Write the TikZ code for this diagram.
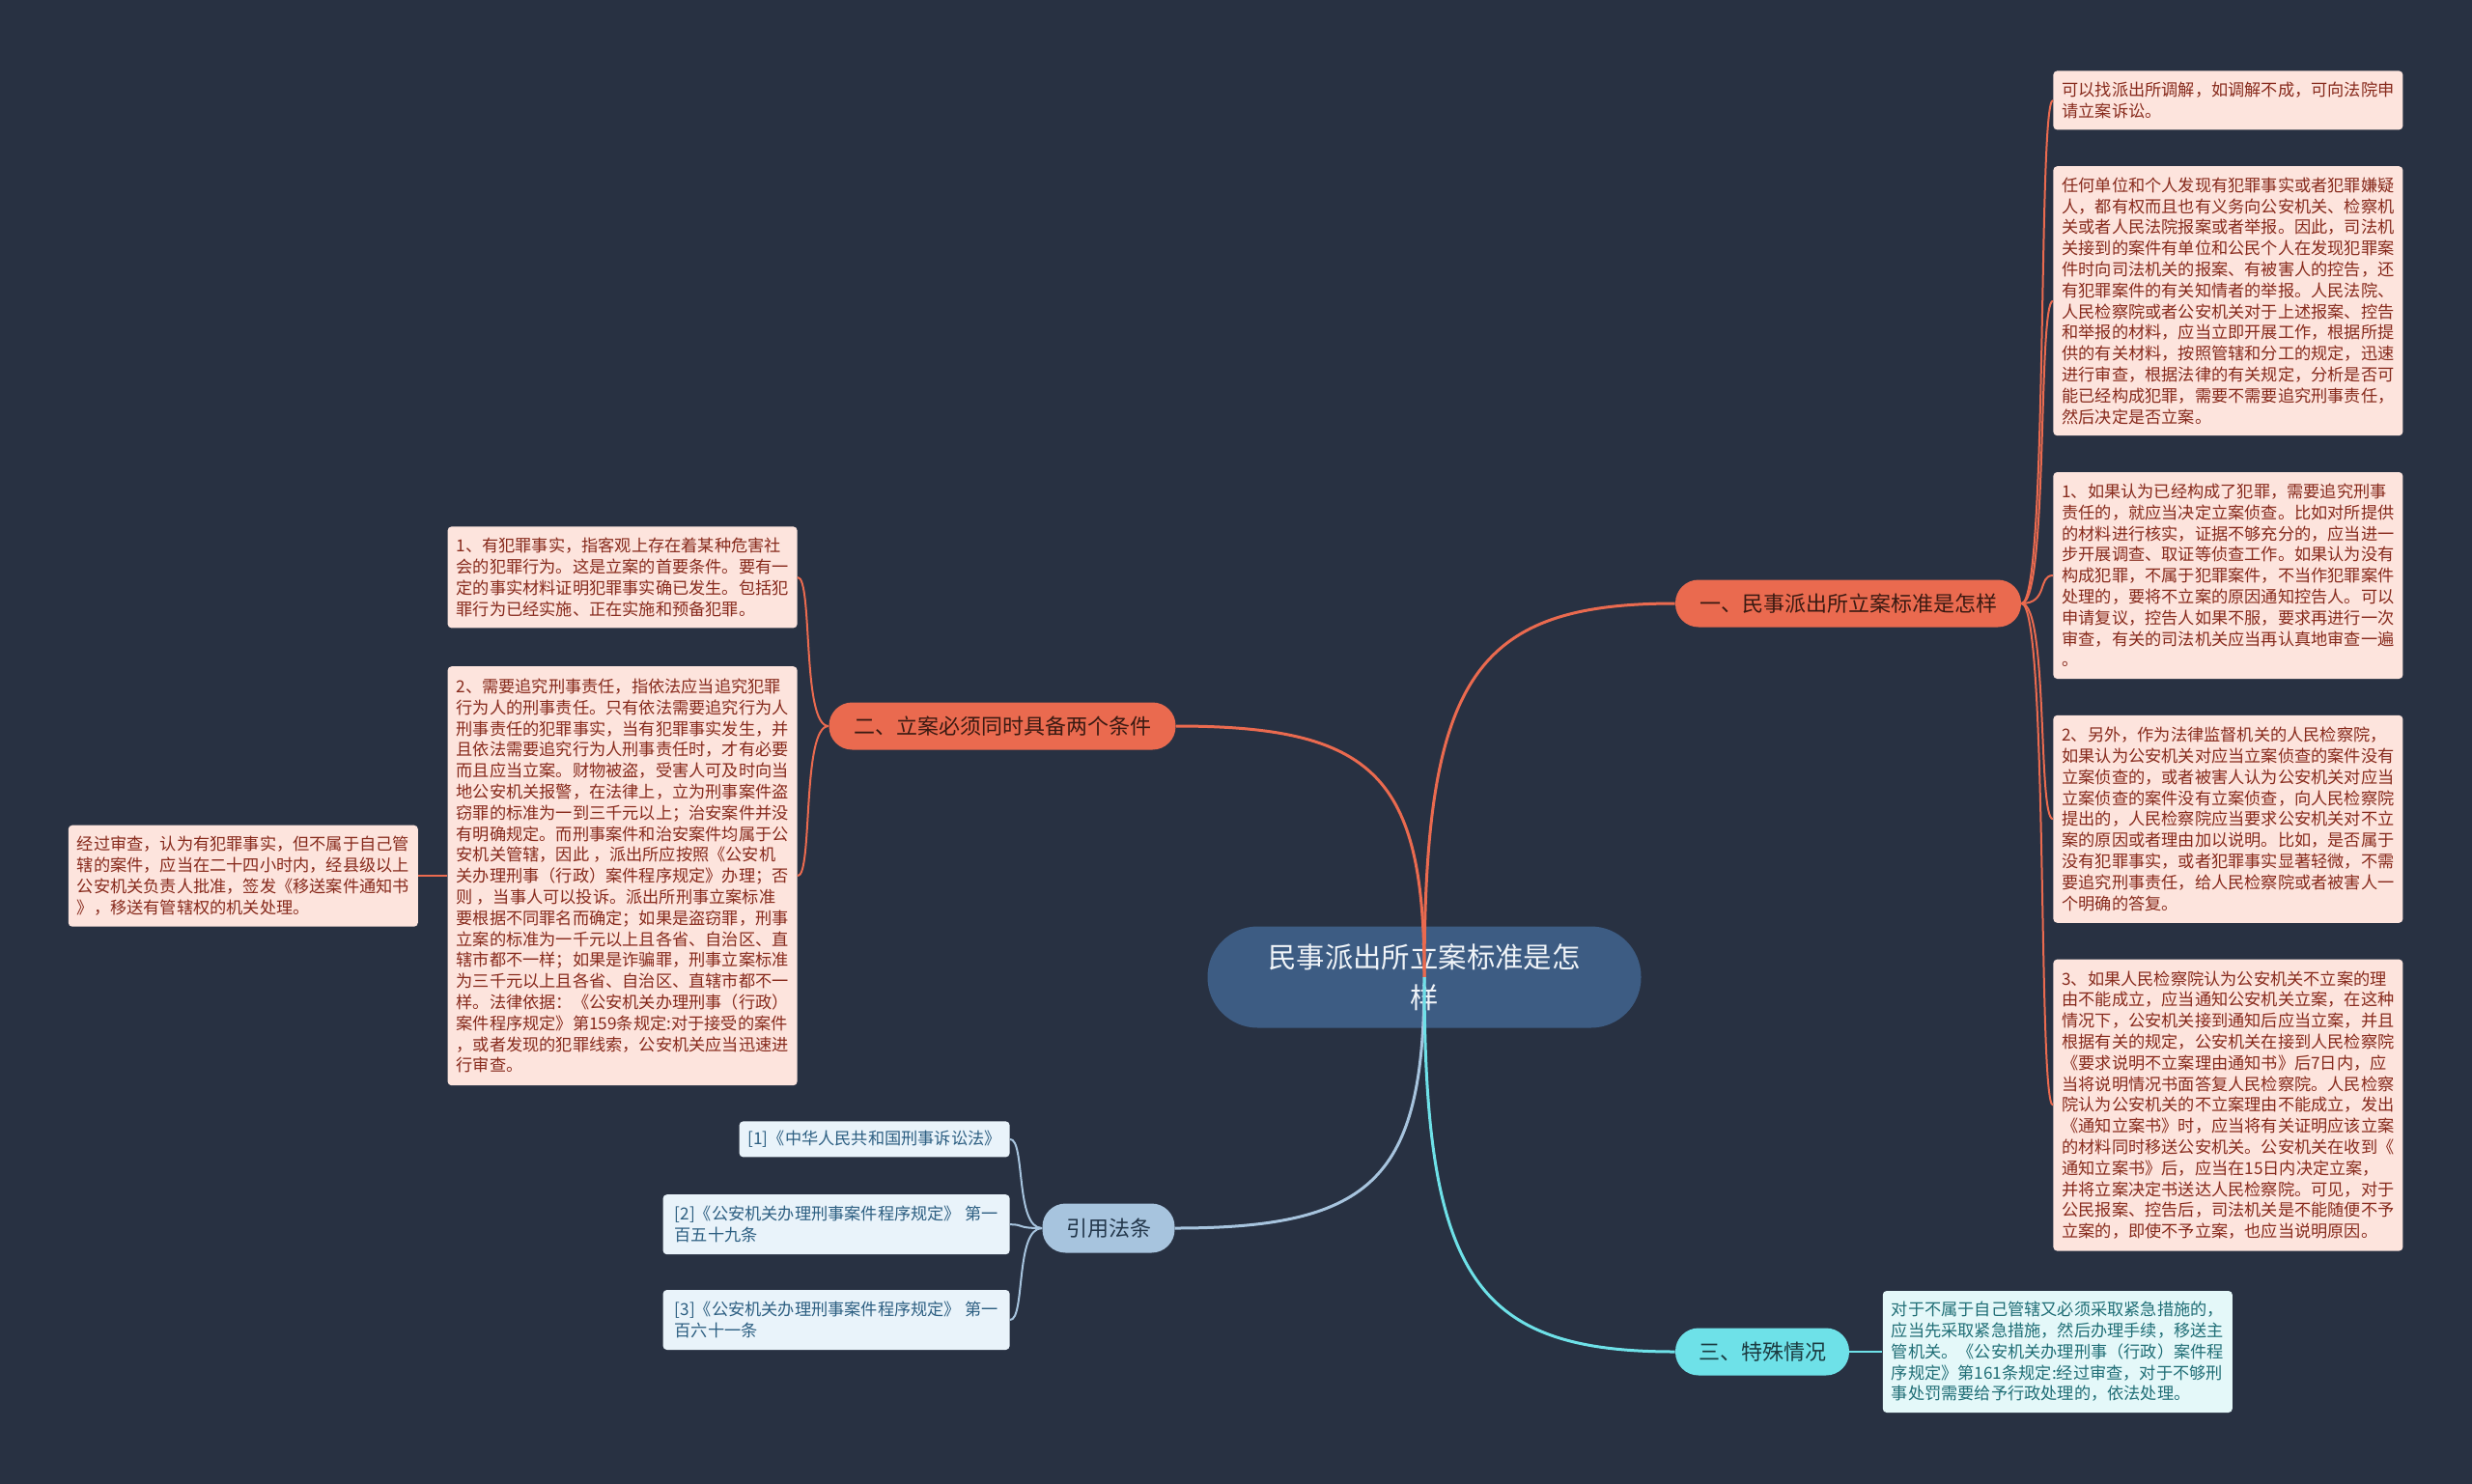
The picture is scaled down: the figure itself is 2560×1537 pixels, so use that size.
\documentclass[tikz,border=0pt]{standalone}
\usepackage{fontspec}
\setmainfont{Noto Sans CJK SC}
\usepackage{xcolor}
\usepackage{tikz}
\usetikzlibrary{positioning}
\definecolor{bgnavy}{RGB}{40,49,66}
\definecolor{rootblue}{RGB}{61,92,131}
\definecolor{ruleorange}{RGB}{234,106,79}
\definecolor{leafpink}{RGB}{253,228,221}
\definecolor{leafink}{RGB}{135,42,28}
\definecolor{brink}{RGB}{58,26,18}
\definecolor{caseteal}{RGB}{110,225,232}
\definecolor{tealpale}{RGB}{228,248,249}
\definecolor{tealink}{RGB}{32,110,118}
\definecolor{citeblue}{RGB}{167,196,222}
\definecolor{citepale}{RGB}{233,243,250}
\definecolor{citeink}{RGB}{45,95,130}

\begin{document}
\begin{tikzpicture}[x=0.5pt, y=0.5pt, font=\fontsize{8.6pt}{10.9pt}\selectfont]
  \tikzset{root/.style={fill=rootblue, text={rgb,255:red,240;green,244;blue,248}, rounded corners=26pt, align=center, minimum width=224.5pt, minimum height=52.5pt, font=\fontsize{14.7pt}{20.8pt}\selectfont},
    topic/.style={rounded corners=12pt, minimum height=24.5pt, inner sep=0pt, font=\fontsize{11pt}{13pt}\selectfont},
    leaf/.style={fill=leafpink, text=leafink, rounded corners=2pt, align=left, inner xsep=4.5pt, inner ysep=2pt, minimum width=180.5pt},
    tealleaf/.style={leaf, fill=tealpale, text=tealink},
    citeleaf/.style={leaf, fill=citepale, text=citeink},
    trunk/.style={line width=1.5pt},
    twig/.style={line width=1pt},
    rcurve/.style={out=0, in=180, out distance=14pt, in distance=8pt},
    lcurve/.style={out=180, in=0, out distance=14pt, in distance=8pt}}
  \fill[bgnavy] (0,0) rectangle (2560,-1537);
  \useasboundingbox (0,0) rectangle (2560,-1537);
  \node[root] (root) at (1475,-1012) {民事派出所立案标准是怎\\样};
  \node[topic, fill=ruleorange, text=brink, minimum width=179pt] (br1) at (1914,-625) {一、民事派出所立案标准是怎样};
  \node[topic, fill=ruleorange, text=brink, minimum width=179.5pt] (br2) at (1038,-752) {二、立案必须同时具备两个条件};
  \node[topic, fill=citeblue, text={rgb,255:red,35;green,55;blue,75}, minimum width=68.5pt, minimum height=25.5pt] (cite) at (1148,-1272) {引用法条};
  \node[topic, fill=caseteal, text={rgb,255:red,27;green,58;blue,64}, minimum width=90pt] (spec) at (1825,-1400) {三、特殊情况};
  \node[leaf, anchor=north west, minimum height=30.5pt] (l1a) at (2126,-73) {可以找派出所调解，如调解不成，可向法院申\\
    请立案诉讼。};
  \node[leaf, below=18.5pt of l1a, minimum height=139.5pt] (l1b) {任何单位和个人发现有犯罪事实或者犯罪嫌疑\\
    人，都有权而且也有义务向公安机关、检察机\\
    关或者人民法院报案或者举报。因此，司法机\\
    关接到的案件有单位和公民个人在发现犯罪案\\
    件时向司法机关的报案、有被害人的控告，还\\
    有犯罪案件的有关知情者的举报。人民法院、\\
    人民检察院或者公安机关对于上述报案、控告\\
    和举报的材料，应当立即开展工作，根据所提\\
    供的有关材料，按照管辖和分工的规定，迅速\\
    进行审查，根据法律的有关规定，分析是否可\\
    能已经构成犯罪，需要不需要追究刑事责任，\\
    然后决定是否立案。};
  \node[leaf, below=18.5pt of l1b, minimum height=107pt] (l1c) {1、如果认为已经构成了犯罪，需要追究刑事\\
    责任的，就应当决定立案侦查。比如对所提供\\
    的材料进行核实，证据不够充分的，应当进一\\
    步开展调查、取证等侦查工作。如果认为没有\\
    构成犯罪，不属于犯罪案件，不当作犯罪案件\\
    处理的，要将不立案的原因通知控告人。可以\\
    申请复议，控告人如果不服，要求再进行一次\\
    审查，有关的司法机关应当再认真地审查一遍\\
    。};
  \node[leaf, below=18.5pt of l1c, minimum height=107.5pt] (l1d) {2、另外，作为法律监督机关的人民检察院，\\
    如果认为公安机关对应当立案侦查的案件没有\\
    立案侦查的，或者被害人认为公安机关对应当\\
    立案侦查的案件没有立案侦查，向人民检察院\\
    提出的，人民检察院应当要求公安机关对不立\\
    案的原因或者理由加以说明。比如，是否属于\\
    没有犯罪事实，或者犯罪事实显著轻微，不需\\
    要追究刑事责任，给人民检察院或者被害人一\\
    个明确的答复。};
  \node[leaf, below=18.5pt of l1d, minimum height=151pt] (l1e) {3、如果人民检察院认为公安机关不立案的理\\
    由不能成立，应当通知公安机关立案，在这种\\
    情况下，公安机关接到通知后应当立案，并且\\
    根据有关的规定，公安机关在接到人民检察院\\
    《要求说明不立案理由通知书》后7日内，应\\
    当将说明情况书面答复人民检察院。人民检察\\
    院认为公安机关的不立案理由不能成立，发出\\
    《通知立案书》时，应当将有关证明应该立案\\
    的材料同时移送公安机关。公安机关在收到《\\
    通知立案书》后，应当在15日内决定立案，\\
    并将立案决定书送达人民检察院。可见，对于\\
    公民报案、控告后，司法机关是不能随便不予\\
    立案的，即使不予立案，也应当说明原因。};
  \node[leaf, anchor=north east, minimum width=179.5pt, minimum height=52.5pt] (l2a) at (826,-545) {1、有犯罪事实，指客观上存在着某种危害社\\
    会的犯罪行为。这是立案的首要条件。要有一\\
    定的事实材料证明犯罪事实确已发生。包括犯\\
    罪行为已经实施、正在实施和预备犯罪。};
  \node[leaf, below=19.5pt of l2a, minimum width=179.5pt, minimum height=217pt] (l2b) {2、需要追究刑事责任，指依法应当追究犯罪\\
    行为人的刑事责任。只有依法需要追究行为人\\
    刑事责任的犯罪事实，当有犯罪事实发生，并\\
    且依法需要追究行为人刑事责任时，才有必要\\
    而且应当立案。财物被盗，受害人可及时向当\\
    地公安机关报警，在法律上，立为刑事案件盗\\
    窃罪的标准为一到三千元以上；治安案件并没\\
    有明确规定。而刑事案件和治安案件均属于公\\
    安机关管辖，因此 ，派出所应按照《公安机\\
    关办理刑事（行政）案件程序规定》办理；否\\
    则 ，当事人可以投诉。派出所刑事立案标准\\
    要根据不同罪名而确定；如果是盗窃罪，刑事\\
    立案的标准为一千元以上且各省、自治区、直\\
    辖市都不一样；如果是诈骗罪，刑事立案标准\\
    为三千元以上且各省、自治区、直辖市都不一\\
    样。法律依据：《公安机关办理刑事（行政）\\
    案件程序规定》第159条规定:对于接受的案件\\
    ，或者发现的犯罪线索，公安机关应当迅速进\\
    行审查。};
  \node[leaf, left=15pt of l2b, minimum height=52.5pt] (l2c) {经过审查，认为有犯罪事实，但不属于自己管\\
    辖的案件，应当在二十四小时内，经县级以上\\
    公安机关负责人批准，签发《移送案件通知书\\
    》，移送有管辖权的机关处理。};
  \node[citeleaf, anchor=north east, minimum width=139.5pt, minimum height=18.5pt] (c1) at (1046,-1161) {[1]《中华人民共和国刑事诉讼法》};
  \node[citeleaf, below=19pt of c1.south east, anchor=north east, minimum width=179.5pt, minimum height=31pt] (c2) {[2]《公安机关办理刑事案件程序规定》 第一\\
    百五十九条};
  \node[citeleaf, below=18pt of c2.south east, anchor=north east, minimum width=179.5pt, minimum height=31pt] (c3) {[3]《公安机关办理刑事案件程序规定》 第一\\
    百六十一条};
  \node[tealleaf, right=17pt of spec, minimum width=180pt, minimum height=63pt] (sp1) {对于不属于自己管辖又必须采取紧急措施的，\\
    应当先采取紧急措施，然后办理手续，移送主\\
    管机关。《公安机关办理刑事（行政）案件程\\
    序规定》第161条规定:经过审查，对于不够刑\\
    事处罚需要给予行政处理的，依法处理。};
  \draw[trunk, ruleorange] (root.center) to[out=90, in=180, out distance=155pt, in distance=104pt] (br1.west);
  \draw[trunk, ruleorange] (root.center) to[out=90, in=0, out distance=104pt, in distance=103pt] (br2.east);
  \draw[trunk, citeblue] (root.center) to[out=-90, in=0, out distance=104pt, in distance=103pt] (cite.east);
  \draw[trunk, caseteal] (root.center) to[out=-90, in=180, out distance=155pt, in distance=104pt] (spec.west);
  \draw[twig, ruleorange] (br1.east) to[rcurve] (l1a.west);
  \draw[twig, ruleorange] (br1.east) to[rcurve] (l1b.west);
  \draw[twig, ruleorange] (br1.east) to[rcurve] (l1c.west);
  \draw[twig, ruleorange] (br1.east) to[rcurve] (l1d.west);
  \draw[twig, ruleorange] (br1.east) to[rcurve] (l1e.west);
  \draw[twig, ruleorange] (br2.west) to[lcurve] (l2a.east);
  \draw[twig, ruleorange] (br2.west) to[lcurve] (l2b.east);
  \draw[twig, ruleorange] (l2b.west) -- (l2c.east);
  \draw[twig, citeblue] (cite.west) to[lcurve] (c1.east);
  \draw[twig, citeblue] (cite.west) to[lcurve] (c2.east);
  \draw[twig, citeblue] (cite.west) to[lcurve] (c3.east);
  \draw[twig, caseteal] (spec.east) -- (sp1.west);
\end{tikzpicture}
\end{document}
